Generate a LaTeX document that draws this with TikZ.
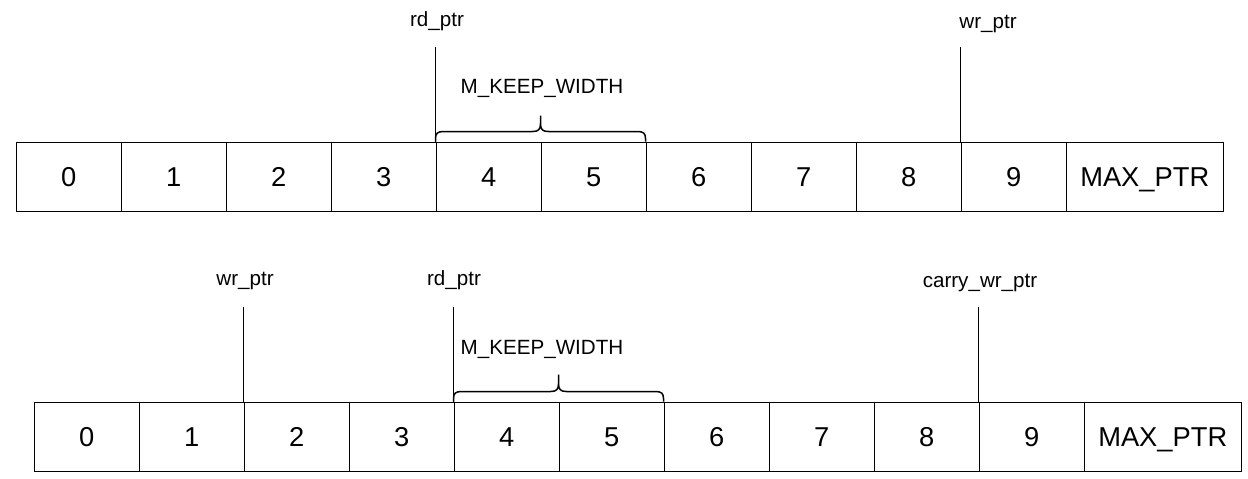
\documentclass[tikz,border=0pt]{standalone}
\usepackage{fontspec}
\setmainfont{Liberation Sans}
\begin{document}
\begin{tikzpicture}[x=1pt,y=-1pt,
 cell/.style={draw, line width=1.5pt, minimum width=105pt, minimum height=69pt, inner sep=0pt, anchor=north west, font=\fontsize{27.3}{32}\selectfont, text height=19.5pt, text depth=0pt},
 wide/.style={cell, minimum width=157pt},
 lbl/.style={anchor=base, font=\fontsize{20.6}{24}\selectfont, inner sep=0pt},
 ptr/.style={line width=1.5pt},
 brc/.style={line width=1.5pt}]
\useasboundingbox (0,0) rectangle (1248,479);
% top row
\foreach \i in {0,...,9} \node[cell] (t\i) at ({15.5+105*\i},141.5) {\i};
\node[wide] (tmax) at (1065.5,141.5) {MAX\_PTR};
% bottom row
\foreach \i in {0,...,9} \node[cell] (b\i) at ({33.5+105*\i},401.5) {\i};
\node[wide] (bmax) at (1083.5,401.5) {MAX\_PTR};
% top pointers
\coordinate (trd) at (435.5,47);
\draw[ptr] (trd) -- (t4.north west);
\node[lbl] (trdl) at (437,26) {rd\_ptr};
\coordinate (twr) at (960.5,47);
\draw[ptr] (twr) -- (t9.north west);
\node[lbl] (twrl) at (988,28) {wr\_ptr};
\node[lbl] (tkw) at (542,93) {M\_KEEP\_WIDTH};
\begin{scope}[shift={(t4.north west)}]
 \draw[brc] (0,0) -- (0,-3) .. controls (0,-8) and (2,-10) .. (8,-10) -- (97,-10) .. controls (103,-10) and (105,-12) .. (105,-18) -- (105,-26) -- (105,-18) .. controls (105,-12) and (107,-10) .. (113,-10) -- (202,-10) .. controls (208,-10) and (210,-8) .. (210,-3) -- (210,0);
\end{scope}
% bottom pointers
\coordinate (bwr) at (243.5,307);
\draw[ptr] (bwr) -- (b2.north west);
\node[lbl] (bwrl) at (245,285) {wr\_ptr};
\coordinate (brd) at (453.5,307);
\draw[ptr] (brd) -- (b4.north west);
\node[lbl] (brdl) at (454,285) {rd\_ptr};
\coordinate (bcw) at (978.5,307);
\draw[ptr] (bcw) -- (b9.north west);
\node[lbl] (bcwl) at (980,287) {carry\_wr\_ptr};
\node[lbl] (bkw) at (542,354) {M\_KEEP\_WIDTH};
\begin{scope}[shift={(b4.north west)}]
 \draw[brc] (0,0) -- (0,-3) .. controls (0,-8) and (2,-10) .. (8,-10) -- (97,-10) .. controls (103,-10) and (105,-12) .. (105,-18) -- (105,-27) -- (105,-18) .. controls (105,-12) and (107,-10) .. (113,-10) -- (202,-10) .. controls (208,-10) and (210,-8) .. (210,-3) -- (210,0);
\end{scope}
\end{tikzpicture}
\end{document}
